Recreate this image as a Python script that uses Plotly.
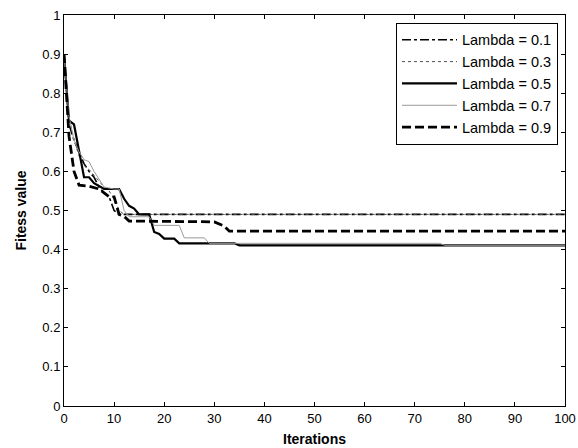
import plotly.graph_objects as go

# Data (change points of each run)
x_l01 = [0, 1, 2, 3, 4, 5, 6, 7, 8, 9, 10, 11, 100]
y_l01 = [0.90, 0.72, 0.68, 0.65, 0.62, 0.60, 0.585, 0.56, 0.545, 0.535, 0.50, 0.49, 0.49]

x_l03 = [0, 1, 2, 3, 4, 5, 6, 7, 8, 9, 10, 11, 12, 100]
y_l03 = [0.90, 0.74, 0.68, 0.64, 0.615, 0.605, 0.59, 0.575, 0.56, 0.55, 0.53, 0.50, 0.49, 0.49]

x_l05 = [0, 1, 2, 3, 4, 5, 6, 8, 11, 12, 13, 14, 15, 17, 18, 19, 20, 22, 23, 34, 35, 100]
y_l05 = [0.90, 0.73, 0.72, 0.65, 0.585, 0.585, 0.57, 0.555, 0.555, 0.53, 0.512, 0.505, 0.49, 0.49,
         0.445, 0.44, 0.428, 0.428, 0.416, 0.416, 0.411, 0.411]

x_l07 = [0, 1, 2, 3, 4, 5, 6, 7, 8, 10, 11, 12, 13, 17, 18, 23, 24, 28, 29, 75, 76, 100]
y_l07 = [0.90, 0.74, 0.68, 0.65, 0.63, 0.625, 0.60, 0.58, 0.56, 0.555, 0.555, 0.50, 0.484, 0.484,
         0.462, 0.462, 0.43, 0.43, 0.416, 0.416, 0.411, 0.411]

x_l09 = [0, 1, 2, 3, 5, 7, 8, 9, 10, 11, 12, 13, 30, 31, 32, 33, 100]
y_l09 = [0.90, 0.69, 0.60, 0.565, 0.562, 0.555, 0.545, 0.535, 0.535, 0.49, 0.485, 0.473, 0.471,
         0.466, 0.46, 0.447, 0.447]

names = ["Lambda = 0.1", "Lambda = 0.3", "Lambda = 0.5", "Lambda = 0.7", "Lambda = 0.9"]
x_ticks = [0, 10, 20, 30, 40, 50, 60, 70, 80, 90, 100]
y_ticks = [0, 0.1, 0.2, 0.3, 0.4, 0.5, 0.6, 0.7, 0.8, 0.9, 1]
y_tick_text = ["0", "0.1", "0.2", "0.3", "0.4", "0.5", "0.6", "0.7", "0.8", "0.9", "1"]
x_title = "Iterations"
y_title = "Fitess value"

series = [
    (x_l01, y_l01, dict(color="black", width=1.6, dash="dashdot")),
    (x_l03, y_l03, dict(color="#505050", width=1, dash="dot")),
    (x_l05, y_l05, dict(color="black", width=2.2, dash="solid")),
    (x_l07, y_l07, dict(color="#9a9a9a", width=1, dash="solid")),
    (x_l09, y_l09, dict(color="black", width=2.8, dash="9px,4px")),
]

fig = go.Figure()
for i, (xs, ys, ln) in enumerate(series):
    fig.add_trace(go.Scatter(x=xs, y=ys, mode="lines", name=names[i], line=ln))

font_family = "Liberation Sans, Arial, sans-serif"
axis_common = dict(showline=True, linecolor="black", linewidth=1, mirror="ticks",
                   ticks="inside", ticklen=4, tickcolor="black", showgrid=False,
                   zeroline=False, tickfont=dict(size=13, color="black", family=font_family))

fig.update_layout(
    width=578, height=448,
    margin=dict(l=64, r=13, t=15, b=42, autoexpand=False),
    paper_bgcolor="white", plot_bgcolor="white",
    font=dict(family=font_family, color="black"),
    xaxis=dict(range=[0, 100], tickvals=x_ticks, ticktext=[str(v) for v in x_ticks],
               automargin=False, **axis_common),
    yaxis=dict(range=[0, 1], tickvals=y_ticks, ticktext=y_tick_text,
               title=dict(text=f"<b>{y_title}</b>", font=dict(size=14), standoff=12),
               automargin=False, **axis_common),
    legend=dict(x=0.986, xanchor="right", y=0.98, yanchor="top",
                bordercolor="black", borderwidth=1, bgcolor="white",
                font=dict(size=14.5, color="black", family=font_family),
                itemwidth=55),
    showlegend=True,
    annotations=[dict(text=f"<b>{x_title}</b>", xref="paper", yref="paper",
                      x=0.5, y=0, yanchor="top", yshift=-23, showarrow=False,
                      font=dict(size=14, color="black", family=font_family))],
)

fig.write_html("out.html", config={"displayModeBar": False},
               post_script="document.body.style.margin='0px';")
